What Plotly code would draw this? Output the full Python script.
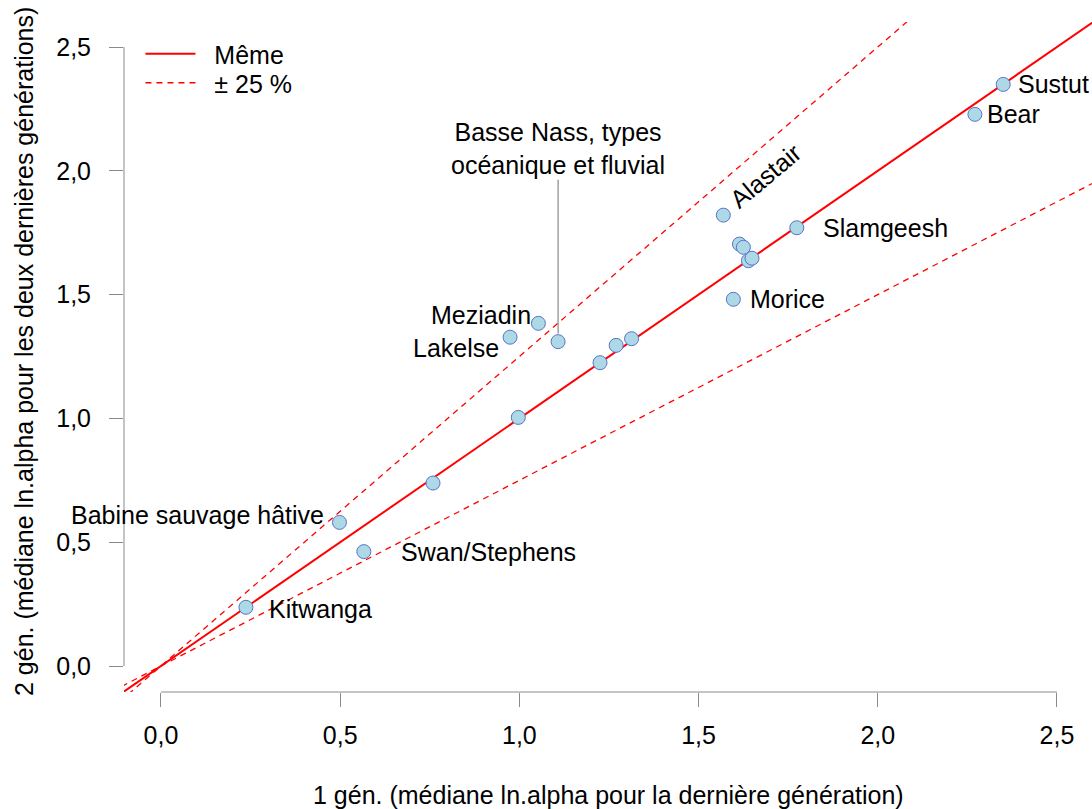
import plotly.graph_objects as go

# ---- data ----
gen1 = [0.237, 0.498, 0.566, 0.759, 0.997, 0.974, 1.053, 1.108, 1.225, 1.270,
        1.313, 1.569, 1.614, 1.625, 1.639, 1.649, 1.597, 1.774, 2.271, 2.350]
gen2 = [0.237, 0.580, 0.462, 0.739, 1.004, 1.328, 1.384, 1.310, 1.225, 1.295,
        1.322, 1.821, 1.704, 1.691, 1.637, 1.647, 1.481, 1.770, 2.228, 2.349]
names = ["Kitwanga", "Babine sauvage hâtive", "Swan/Stephens", "", "", "Lakelse",
         "Meziadin", "Basse Nass, types<br>océanique et fluvial", "", "", "", "Alastair",
         "", "", "", "", "Morice", "Slamgeesh", "Bear", "Sustut"]
ref_x = [-0.3, 3.0]
ratio_same = 1.0
ratio_band = [1.25, 0.75]
legend_names = ["Même", "± 25 %"]
tick_vals = [0.0, 0.5, 1.0, 1.5, 2.0, 2.5]
tick_text = ["0,0", "0,5", "1,0", "1,5", "2,0", "2,5"]
x_title = "1 gén. (médiane ln.alpha pour la dernière génération)"
y_title = "2 gén. (médiane ln.alpha pour les deux dernières générations)"

# ---- label placement (style) ----
label_style = {
    "Kitwanga": dict(xanchor="left", xshift=21, yshift=-2),
    "Babine sauvage hâtive": dict(xanchor="right", xshift=-13, yshift=7),
    "Swan/Stephens": dict(xanchor="left", xshift=35, yshift=0),
    "Lakelse": dict(xanchor="right", xshift=-9, yshift=-11),
    "Meziadin": dict(xanchor="right", xshift=-5, yshift=8),
    "Morice": dict(xanchor="left", xshift=15, yshift=0),
    "Slamgeesh": dict(xanchor="left", xshift=24, yshift=0),
    "Bear": dict(xanchor="left", xshift=10, yshift=0),
    "Sustut": dict(xanchor="left", xshift=13, yshift=0),
}

FONT = "Liberation Sans, Arial, sans-serif"
FS = 25
AXC = "#8a8a8a"
PAD = "&nbsp;&nbsp;"

fig = go.Figure()

fig.add_trace(go.Scatter(
    x=ref_x, y=[ratio_same * v for v in ref_x], mode="lines",
    line=dict(color="#ff0000", width=2), name=PAD + legend_names[0], hoverinfo="skip",
    legend="legend"))
for i, r in enumerate(ratio_band):
    fig.add_trace(go.Scatter(
        x=ref_x, y=[r * v for v in ref_x], mode="lines",
        line=dict(color="#ff0000", width=1.3, dash="6px,5px"),
        name=PAD + legend_names[1], showlegend=(i == 0), legendgroup="band",
        hoverinfo="skip", legend="legend2"))

fig.add_trace(go.Scatter(
    x=gen1, y=gen2, mode="markers", showlegend=False,
    marker=dict(size=14, color="#add8e6", line=dict(color="#5a73c8", width=1)),
    cliponaxis=False))

anns = []
for xv, yv, nm in zip(gen1, gen2, names):
    if not nm:
        continue
    if nm in label_style:
        s = label_style[nm]
        anns.append(dict(x=xv, y=yv, xref="x", yref="y", text=nm, showarrow=False,
                         xanchor=s["xanchor"], yanchor="middle",
                         xshift=s["xshift"], yshift=s["yshift"],
                         font=dict(family=FONT, size=FS, color="black")))
    elif nm == "Alastair":
        anns.append(dict(x=xv, y=yv, xref="x", yref="y", text=nm, showarrow=False,
                         textangle=-40, xanchor="center", yanchor="middle",
                         xshift=42, yshift=39,
                         font=dict(family=FONT, size=FS, color="black")))
    else:
        anns.append(dict(x=xv, y=yv, xref="x", yref="y", text=nm, showarrow=True,
                         arrowhead=0, arrowwidth=1, arrowcolor="#707070",
                         ax=0, ay=-193, standoff=8, borderpad=0,
                         font=dict(family=FONT, size=FS, color="black")))

anns.append(dict(x=0.5, y=0, xref="paper", yref="paper", text=x_title, showarrow=False,
                 xanchor="center", yanchor="middle", yshift=-103,
                 font=dict(family=FONT, size=FS, color="black")))
anns.append(dict(x=0, y=0.5, xref="paper", yref="paper", text=y_title, showarrow=False,
                 textangle=-90, xanchor="center", yanchor="middle", xshift=-100, yshift=5,
                 font=dict(family=FONT, size=FS, color="black")))

shapes = [
    dict(type="line", xref="paper", yref="y", x0=0, x1=0, y0=tick_vals[0], y1=tick_vals[-1],
         line=dict(color=AXC, width=1)),
    dict(type="line", xref="x", yref="paper", x0=tick_vals[0], x1=tick_vals[-1], y0=0, y1=0,
         line=dict(color=AXC, width=1)),
]

axis_common = dict(
    tickvals=tick_vals, ticktext=tick_text, ticks="outside", ticklen=14,
    tickcolor=AXC, tickwidth=1, showgrid=False, zeroline=False, showline=False,
    tickfont=dict(family=FONT, size=FS, color="black"), fixedrange=True,
)

leg_common = dict(xanchor="left", yanchor="middle",
                  font=dict(family=FONT, size=FS, color="black"),
                  bgcolor="rgba(0,0,0,0)", itemwidth=50)

fig.update_layout(
    width=1092, height=809,
    margin=dict(l=124, r=0, t=22, b=117),
    paper_bgcolor="white", plot_bgcolor="white",
    xaxis=dict(range=[-0.1032, 2.5977], ticklabelstandoff=7, **axis_common),
    yaxis=dict(range=[-0.105, 2.601], ticklabelstandoff=13, **axis_common),
    showlegend=True,
    legend=dict(x=0.017, y=(692 - 54) / 670, **leg_common),
    legend2=dict(x=0.017, y=(692 - 83) / 670, **leg_common),
    annotations=anns, shapes=shapes,
    font=dict(family=FONT, size=FS),
)

fig.write_html("out.html", config={"displayModeBar": False},
               post_script="document.body.style.margin='0';")
